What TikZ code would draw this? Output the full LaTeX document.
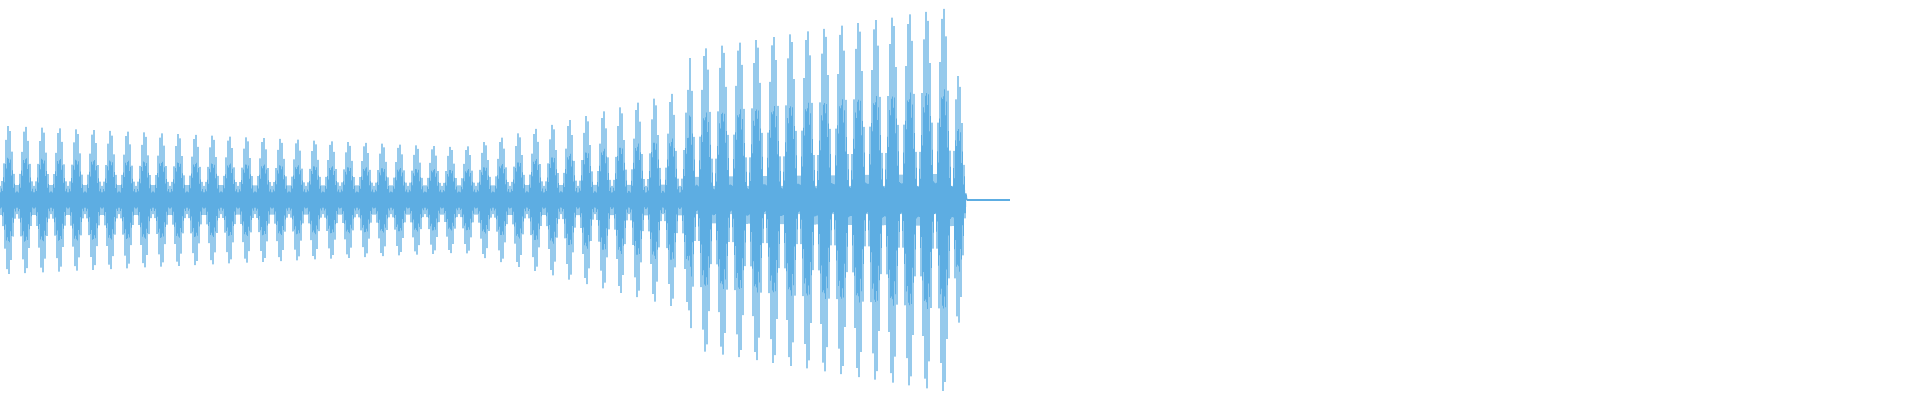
\documentclass[tikz,border=0pt]{standalone}
\definecolor{wave}{RGB}{93,173,226}
\begin{document}
\begin{tikzpicture}[x=0.01cm,y=0.01cm,
  declare function={
    amp(\t)=ifthenelse(\t<460,75-0.0478*\t,ifthenelse(\t<690,52+0.26*(\t-460),150+0.1667*(\t-690)));
    lobe(\t)=ifthenelse(\t<690,pow(abs(sin(10.5882*\t)),2.5),pow(abs(sin(10.5882*\t)),1.6));
    taper(\t)=ifthenelse(\t<955,1,max(0,(967-\t)/12));
    car(\t)=1-2*mod(round(\t),2);
    wv(\t)=taper(\t)*(14+(amp(\t)-14)*lobe(\t))*car(\t);
  },
  wavestyle/.style={draw=wave,line width=0.3pt}]
\useasboundingbox (0,0) rectangle (1920,400);
\draw[wavestyle] plot[domain=0:967,samples=968] (\x,{200+wv(\x)});
\coordinate (e1) at (967,200);
\coordinate (e2) at (1010,200);
\draw[wavestyle] (e1) -- (e2);
\end{tikzpicture}
\end{document}
